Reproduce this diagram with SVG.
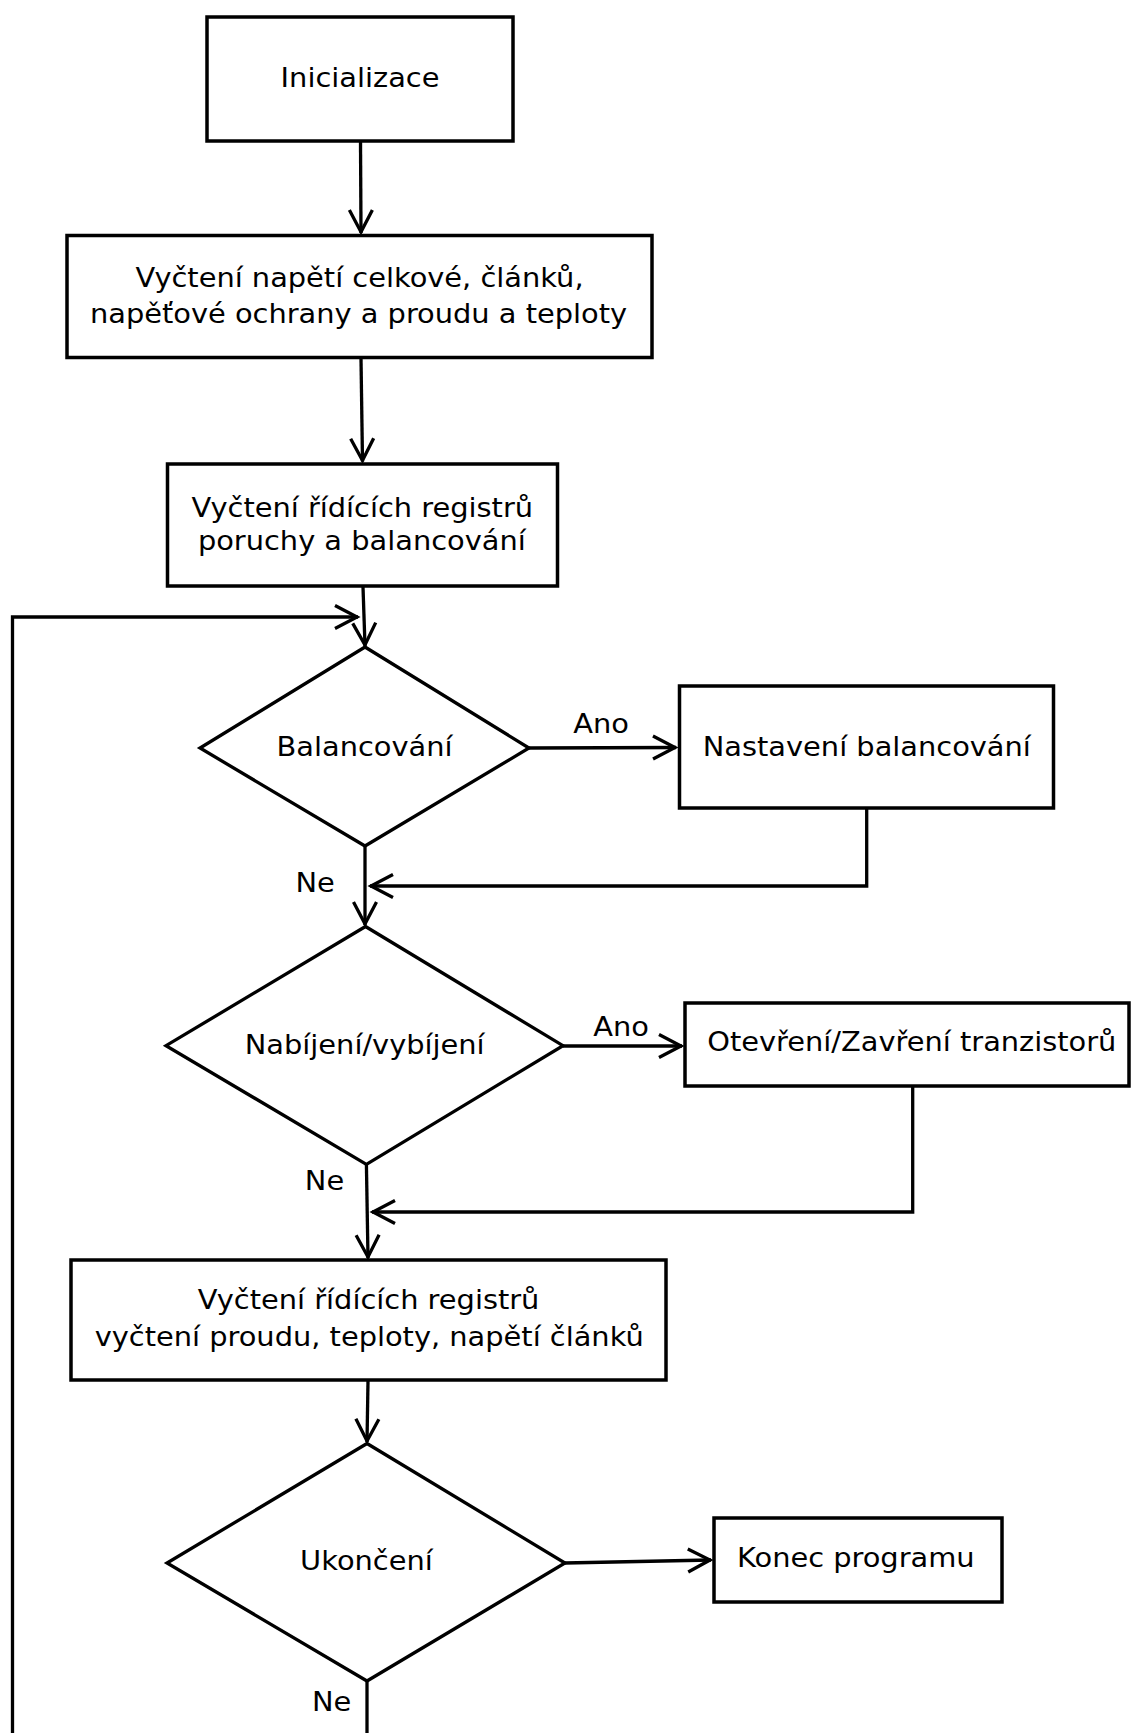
<svg xmlns="http://www.w3.org/2000/svg" width="1133" height="1733" viewBox="0 0 1133 1733">
<style>
.box{fill:#fff;stroke:#000;stroke-width:3.5}
.dia{fill:#fff;stroke:#000;stroke-width:3.3}
.con{fill:none;stroke:#000;stroke-width:3.3}
text{font-family:"DejaVu Sans","Liberation Sans",sans-serif;font-size:26px;fill:#000;text-anchor:middle}
</style>
<defs>
<marker id="arr" viewBox="-28 -16 32 32" refX="0" refY="0" markerWidth="32" markerHeight="32" orient="auto" markerUnits="userSpaceOnUse">
<path d="M-23,-11.5 L-1,0 L-23,11.5" fill="none" stroke="#000" stroke-width="3.3"/>
</marker>
</defs>
<rect width="1133" height="1733" fill="#fff"/>
<g id="connectors">
<path class="con" d="M360.5,141.5 L361,233" marker-end="url(#arr)"/>
<path class="con" d="M361,358.5 L362.5,461.5" marker-end="url(#arr)"/>
<path class="con" d="M363,587 L365,646" marker-end="url(#arr)"/>
<path class="con" d="M12.5,1733 L12.5,617 L358,617" marker-end="url(#arr)"/>
<path class="con" d="M529,748 L676,747.5" marker-end="url(#arr)"/>
<path class="con" d="M866.7,809 L866.7,886 L370,886" marker-end="url(#arr)"/>
<path class="con" d="M365,846 L365,925" marker-end="url(#arr)"/>
<path class="con" d="M563,1046 L682,1046" marker-end="url(#arr)"/>
<path class="con" d="M912.7,1087 L912.7,1212 L372,1212" marker-end="url(#arr)"/>
<path class="con" d="M366.4,1164 L368,1258" marker-end="url(#arr)"/>
<path class="con" d="M368,1381 L367,1442" marker-end="url(#arr)"/>
<path class="con" d="M565,1563 L711,1560" marker-end="url(#arr)"/>
<path class="con" d="M367,1681 L367,1733"/>
<text transform="translate(601,733) scale(1.11,1)">Ano</text>
<text transform="translate(315.2,892) scale(1.11,1)">Ne</text>
<text transform="translate(621,1036) scale(1.11,1)">Ano</text>
<text transform="translate(324.5,1190) scale(1.11,1)">Ne</text>
<text transform="translate(331.6,1711) scale(1.11,1)">Ne</text>
</g>
<g id="n-init">
<rect class="box" x="207" y="17" width="306" height="124"/>
<text transform="translate(360,87.3) scale(1.11,1)">Inicializace</text>
</g>
<g id="n-read1">
<rect class="box" x="67" y="235.5" width="585" height="122"/>
<text transform="translate(359.5,287) scale(1.11,1)">Vyčtení napětí celkové, článků,</text>
<text transform="translate(358.5,322.6) scale(1.11,1)">napěťové ochrany a proudu a teploty</text>
</g>
<g id="n-read2">
<rect class="box" x="167.5" y="464" width="390" height="122"/>
<text transform="translate(362.3,516.6) scale(1.11,1)">Vyčtení řídících registrů</text>
<text transform="translate(361.8,550) scale(1.11,1)">poruchy a balancování</text>
</g>
<g id="n-bal">
<polygon class="dia" points="365,647 529,748 365,846 200,748"/>
<text transform="translate(364.5,755.5) scale(1.11,1)">Balancování</text>
</g>
<g id="n-setbal">
<rect class="box" x="679.5" y="686" width="374" height="122"/>
<text transform="translate(866.8,756) scale(1.11,1)">Nastavení balancování</text>
</g>
<g id="n-charge">
<polygon class="dia" points="365.5,926.5 563,1045.7 366.4,1164.3 166,1045.7"/>
<text transform="translate(364.7,1054) scale(1.11,1)">Nabíjení/vybíjení</text>
</g>
<g id="n-trans">
<rect class="box" x="685" y="1003" width="444" height="83"/>
<text transform="translate(911.8,1051.4) scale(1.11,1)">Otevření/Zavření tranzistorů</text>
</g>
<g id="n-read3">
<rect class="box" x="71" y="1260" width="595" height="120"/>
<text transform="translate(368.6,1308.7) scale(1.11,1)">Vyčtení řídících registrů</text>
<text transform="translate(369.2,1345.8) scale(1.11,1)">vyčtení proudu, teploty, napětí článků</text>
</g>
<g id="n-end">
<polygon class="dia" points="367,1443.5 565,1563 367,1681 167,1563"/>
<text transform="translate(366.4,1570) scale(1.11,1)">Ukončení</text>
</g>
<g id="n-konec">
<rect class="box" x="714" y="1518" width="288" height="84"/>
<text transform="translate(855.8,1566.7) scale(1.11,1)">Konec programu</text>
</g>
</svg>
